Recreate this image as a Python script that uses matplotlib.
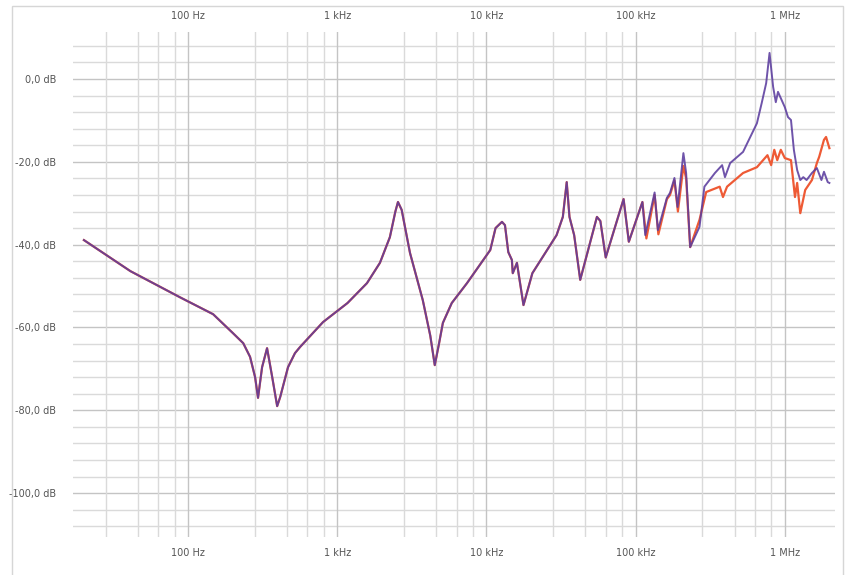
import numpy as np
import matplotlib
matplotlib.use("Agg")
import matplotlib.pyplot as plt
from matplotlib.patches import Rectangle

# shared part of both traces (Hz, dB)
freq_low = [20, 41, 88, 147, 200, 234, 260, 281, 294, 313, 338, 366, 395, 414, 467,
            520, 563, 802, 1170, 1580, 1930, 2250, 2450, 2550, 2700, 3070, 3740, 4200,
            4500, 4800, 5100, 5850, 7400, 10600, 11500, 12700, 13300, 14000, 14800,
            15000, 16000, 17700, 20300, 29500, 32500, 34500, 36000, 38700, 42500,
            55000, 58000, 63000, 83000, 90000]
db_low = [-38.9, -46.4, -52.7, -56.8, -61.4, -63.8, -67.1, -72.0, -77.0, -69.6, -65.0,
          -72.0, -79.0, -76.8, -69.6, -66.2, -64.7, -58.7, -54.1, -49.3, -44.4, -38.2,
          -32.0, -29.7, -31.6, -42.0, -53.4, -62.0, -69.1, -64.0, -58.9, -54.1, -49.3,
          -41.3, -36.0, -34.5, -35.3, -41.8, -43.7, -46.9, -44.4, -54.6, -46.9, -37.7,
          -33.3, -24.9, -33.3, -37.7, -48.5, -33.3, -34.3, -43.1, -29.0, -39.3]

# purple trace above 100 kHz
freq_purple = [111e3, 116e3, 134e3, 141e3, 162e3, 170e3, 182e3, 191e3, 209e3, 218e3,
               232e3, 268e3, 289e3, 340e3, 380e3, 397e3, 430e3, 525e3, 560e3, 650e3,
               700e3, 750e3, 790e3, 835e3, 870e3, 900e3, 1.0e6, 1.05e6, 1.1e6, 1.15e6,
               1.21e6, 1.27e6, 1.33e6, 1.4e6, 1.52e6, 1.64e6, 1.76e6, 1.83e6, 1.94e6, 1.99e6]
db_purple = [-29.7, -37.7, -27.4, -36.5, -28.7, -27.5, -23.9, -30.9, -17.9, -22.7,
             -40.6, -35.7, -26.0, -22.7, -20.8, -23.7, -20.3, -17.6, -15.5, -10.7,
             -5.8, -1.0, 6.3, -1.9, -5.6, -3.1, -6.8, -9.2, -9.9, -17.1,
             -22.0, -24.4, -23.7, -24.4, -22.7, -21.5, -24.4, -22.4, -24.9, -25.1]

# orange trace above 100 kHz
freq_orange = [111e3, 118e3, 134e3, 142e3, 162e3, 170e3, 182e3, 192e3, 209e3, 218e3,
               232e3, 268e3, 297e3, 366e3, 385e3, 410e3, 525e3, 650e3, 765e3, 810e3,
               850e3, 890e3, 940e3, 1.0e6, 1.1e6, 1.17e6, 1.21e6, 1.27e6, 1.37e6,
               1.52e6, 1.64e6, 1.7e6, 1.83e6, 1.89e6, 1.99e6]
db_orange = [-29.7, -38.5, -28.0, -37.5, -29.0, -28.0, -24.5, -32.0, -21.0, -24.0,
             -40.6, -34.0, -27.3, -26.0, -28.5, -26.0, -22.7, -21.3, -18.4, -20.8,
             -17.1, -19.6, -17.1, -19.1, -19.6, -28.5, -25.1, -32.4, -26.8,
             -24.4, -20.3, -18.8, -14.7, -14.0, -16.7]

x_ticks = [100, 1e3, 1e4, 1e5, 1e6]
x_labels = ["100 Hz", "1 kHz", "10 kHz", "100 kHz", "1 MHz"]
y_ticks = [0, -20, -40, -60, -80, -100]
y_labels = ["0,0 dB", "-20,0 dB", "-40,0 dB", "-60,0 dB", "-80,0 dB", "-100,0 dB"]

W, H = 848, 575
fig = plt.figure(figsize=(W / 100, H / 100), dpi=100)
fig.patches.append(Rectangle((12 / W, -0.1), (843 - 12) / W, 1.1 - 6 / H,
                             transform=fig.transFigure, fill=False,
                             edgecolor="#d6d6d6", linewidth=1.0))

ax = fig.add_axes([73 / W, 1 - 537 / H, (835 - 73) / W, (537 - 32) / H])
ax.set_xscale("log")
ax.set_xlim(16.9, 2.17e6)
ax.set_ylim(-110.6, 11.35)

# grid
for yv in np.arange(-108, 9, 4):
    major = yv % 20 == 0
    ax.axhline(yv, color="#c4c4c4" if major else "#dadada", lw=1.0, zorder=0)
minor_mult = [2.8, 4.6, 6.3, 8.1]
for dec in [10, 100, 1e3, 1e4, 1e5]:
    for m in minor_mult:
        ax.axvline(dec * m, color="#dadada", lw=1.0, zorder=0)
for xv in x_ticks:
    ax.axvline(xv, color="#c4c4c4", lw=1.0, zorder=0)

f_p = freq_low + freq_purple
d_p = db_low + db_purple
f_o = freq_low + freq_orange
d_o = db_low + db_orange
ax.plot(f_o, d_o, color="#ee5a35", lw=1.6, zorder=2)
ax.plot(f_p, d_p, color="#5b3c9e", lw=1.4, alpha=0.88, zorder=3)

for s in ax.spines.values():
    s.set_visible(False)

ax.set_xticks(x_ticks)
ax.set_xticklabels(x_labels)
ax.set_xticks([], minor=True)
ax.set_yticks(y_ticks)
ax.set_yticklabels(y_labels)
ax.tick_params(axis="both", which="both", length=0, labelsize=7, colors="#555555")
ax.tick_params(axis="x", top=True, labeltop=True, pad=8)
ax.tick_params(axis="y", pad=12)

fig.savefig("out.png", dpi=100)
